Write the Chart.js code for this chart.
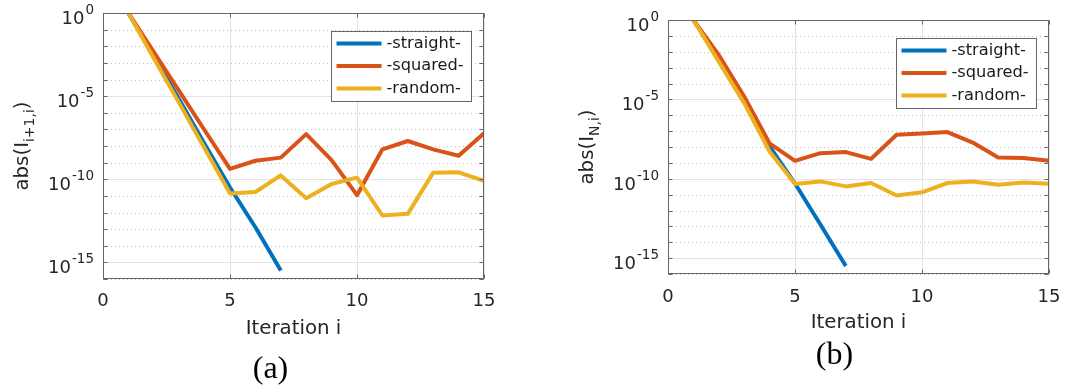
<!DOCTYPE html>
<html>
<head>
<meta charset="utf-8">
<script src="https://cdn.jsdelivr.net/npm/chart.js@4.4.1/dist/chart.umd.min.js"></script>
<style>
    html, body { margin: 0; padding: 0; background: #fff; }
    #wrap { position: relative; width: 1071px; height: 392px; overflow: hidden; }
    .panel { position: absolute; top: 0; }
</style>
</head>
<body>
<div id="wrap">
    <div class="panel" style="left:0"><canvas id="chartA" width="535" height="392"></canvas></div>
    <div class="panel" style="left:535px"><canvas id="chartB" width="536" height="392"></canvas></div>
</div>
<script>
// dados
const iterations = [1, 2, 3, 4, 5, 6, 7, 8, 9, 10, 11, 12, 13, 14, 15];
const seriesNames = ['-straight-', '-squared-', '-random-'];
const seriesColors = ['#0072BD', '#D95319', '#EDB120'];

// (a) abs(I_{i+1,i})
const straightA = [1, 2.5e-3, 6.3e-6, 1.3e-8, 3.2e-11, 1.3e-13, 3.2e-16];
const squaredA = [1, 4.5e-3, 2.0e-5, 8.9e-8, 4.2e-10, 1.3e-9, 2.0e-9, 5.2e-8, 1.4e-9, 1.1e-11, 6.3e-9, 2.0e-8, 6.3e-9, 2.6e-9, 5.8e-8];
const randomA = [1, 1.9e-3, 3.8e-6, 7.4e-9, 1.4e-11, 1.7e-11, 1.7e-10, 7.2e-12, 5.2e-11, 1.26e-10, 6.6e-13, 8.3e-13, 2.5e-10, 2.6e-10, 7.9e-11];

// (b) abs(I_{N,i})
const straightB = [1, 3.5e-3, 1.0e-5, 1.1e-8, 5.0e-11, 1.3e-13, 3.2e-16];
const squaredB = [1, 6.3e-3, 1.5e-5, 1.7e-8, 1.35e-9, 4.1e-9, 4.8e-9, 1.8e-9, 5.9e-8, 7.1e-8, 8.7e-8, 1.9e-8, 2.2e-9, 2.0e-9, 1.35e-9];
const randomB = [1, 2.4e-3, 5.8e-6, 5.2e-9, 4.6e-11, 6.8e-11, 3.3e-11, 5.4e-11, 8.9e-12, 1.4e-11, 5.4e-11, 6.8e-11, 4.2e-11, 5.9e-11, 4.9e-11];

const xTicks = [0, 5, 10, 15];
const yTickExp = [0, -5, -10, -15];
const decadeExp = [0, -1, -2, -3, -4, -5, -6, -7, -8, -9, -10, -11, -12, -13, -14, -15, -16];

const textColor = '#262626';
const axisColor = '#666666';
const FONT = '"DejaVu Sans", sans-serif';
const LINE_W = 4;

function toPoints(values) {
    return values.map((v, i) => ({ x: iterations[i], y: v }));
}

// Plugin que desenha eixos no estilo MATLAB (grade, caixa, rótulos com expoente, legenda)
const matlabAxes = {
    id: 'matlabAxes',
    beforeDatasetsDraw(chart, args, opts) {
        const { ctx, chartArea: a, scales: { x, y } } = chart;
        ctx.save();
        ctx.lineWidth = 1;
        // grade menor pontilhada
        ctx.strokeStyle = '#c0c0c0';
        ctx.setLineDash([1, 3]);
        decadeExp.forEach(e => {
            if (e % 5 === 0) return;
            const py = Math.round(y.getPixelForValue(Math.pow(10, e))) + 0.5;
            ctx.beginPath();
            ctx.moveTo(a.left, py);
            ctx.lineTo(a.right, py);
            ctx.stroke();
        });
        // grade maior
        ctx.setLineDash([]);
        ctx.strokeStyle = '#e3e3e3';
        yTickExp.forEach(e => {
            const py = Math.round(y.getPixelForValue(Math.pow(10, e))) + 0.5;
            ctx.beginPath();
            ctx.moveTo(a.left, py);
            ctx.lineTo(a.right, py);
            ctx.stroke();
        });
        xTicks.forEach(t => {
            const px = Math.round(x.getPixelForValue(t)) + 0.5;
            ctx.beginPath();
            ctx.moveTo(px, a.top);
            ctx.lineTo(px, a.bottom);
            ctx.stroke();
        });
        ctx.restore();
    },
    afterDatasetsDraw(chart, args, opts) {
        const { ctx, chartArea: a, scales: { x, y } } = chart;
        ctx.save();

        // caixa e marcas
        ctx.strokeStyle = axisColor;
        ctx.lineWidth = 1;
        const L = Math.round(a.left) + 0.5, R = Math.round(a.right) - 0.5;
        const T = Math.round(a.top) + 0.5, B = Math.round(a.bottom) - 0.5;
        ctx.strokeRect(L, T, R - L, B - T);
        ctx.beginPath();
        decadeExp.forEach(e => {
            const py = Math.round(y.getPixelForValue(Math.pow(10, e))) + 0.5;
            ctx.moveTo(L, py); ctx.lineTo(L + 4, py);
            ctx.moveTo(R, py); ctx.lineTo(R - 4, py);
        });
        xTicks.forEach(t => {
            const px = Math.round(x.getPixelForValue(t)) + 0.5;
            ctx.moveTo(px, B); ctx.lineTo(px, B - 4);
            ctx.moveTo(px, T); ctx.lineTo(px, T + 4);
        });
        ctx.stroke();

        ctx.fillStyle = textColor;

        // rótulos do eixo x
        ctx.font = '18px ' + FONT;
        ctx.textAlign = 'center';
        ctx.textBaseline = 'alphabetic';
        xTicks.forEach(t => {
            ctx.fillText(String(t), x.getPixelForValue(t), a.bottom + opts.xTickOff);
        });

        // rótulos do eixo y: 10^e
        yTickExp.forEach(e => {
            const py = y.getPixelForValue(Math.pow(10, e));
            const sup = e === 0 ? '0' : '-' + Math.abs(e);
            ctx.font = '13.5px ' + FONT;
            const ws = ctx.measureText(sup).width;
            const right = a.left - 9;
            ctx.textAlign = 'left';
            ctx.fillText(sup, right - ws, py + 1);
            ctx.font = '18px ' + FONT;
            const wb = ctx.measureText('10').width;
            ctx.fillText('10', right - ws - wb - 1, py + 11);
        });

        // título do eixo x
        ctx.font = '19.8px ' + FONT;
        ctx.textAlign = 'center';
        ctx.fillText('Iteration i', (a.left + a.right) / 2, a.bottom + opts.xTitleOff);

        // título do eixo y com subscrito
        ctx.save();
        ctx.translate(a.left - 75, (a.top + a.bottom) / 2);
        ctx.rotate(-Math.PI / 2);
        ctx.textAlign = 'left';
        ctx.font = '19.8px ' + FONT;
        const w1 = ctx.measureText(opts.yTitle).width;
        const w3 = ctx.measureText(')').width;
        ctx.font = '14px ' + FONT;
        const w2 = ctx.measureText(opts.ySub).width;
        let cx = -(w1 + w2 + w3) / 2;
        ctx.font = '19.8px ' + FONT;
        ctx.fillText(opts.yTitle, cx, 0);
        cx += w1;
        ctx.font = '14px ' + FONT;
        ctx.fillText(opts.ySub, cx, 6);
        cx += w2;
        ctx.font = '19.8px ' + FONT;
        ctx.fillText(')', cx, 0);
        ctx.restore();

        // legenda
        const boxW = 140, boxH = 70;
        const bx = Math.round(a.right - 13 - boxW) + 0.5;
        const by = Math.round(a.top + 18) + 0.5;
        ctx.fillStyle = '#fff';
        ctx.fillRect(bx, by, boxW, boxH);
        ctx.strokeStyle = axisColor;
        ctx.lineWidth = 1;
        ctx.strokeRect(bx, by, boxW, boxH);
        ctx.font = '16.2px ' + FONT;
        ctx.textAlign = 'left';
        ctx.textBaseline = 'middle';
        chart.data.datasets.forEach((ds, i) => {
            const ry = by + 12 + i * 22.5;
            ctx.strokeStyle = ds.borderColor;
            ctx.lineWidth = LINE_W;
            ctx.beginPath();
            ctx.moveTo(bx + 5, ry);
            ctx.lineTo(bx + 50, ry);
            ctx.stroke();
            ctx.fillStyle = '#1a1a1a';
            ctx.fillText(ds.label, bx + 55, ry);
        });

        // rótulo do painel
        ctx.fillStyle = '#000';
        ctx.font = '32px "Liberation Serif", serif';
        ctx.textAlign = 'center';
        ctx.textBaseline = 'middle';
        ctx.fillText(opts.panel, (a.left + a.right) / 2 + opts.panelDx, a.bottom + opts.panelOff);

        ctx.restore();
    }
};

function criarGrafico(canvasId, series, area, texto) {
    const canvas = document.getElementById(canvasId);
    const datasets = series.map((vals, i) => ({
        label: seriesNames[i],
        data: toPoints(vals),
        borderColor: seriesColors[i],
        backgroundColor: seriesColors[i],
        borderWidth: LINE_W,
        pointRadius: 0,
        tension: 0,
        borderJoinStyle: 'round',
        order: series.length - i  // amarelo por cima, como no MATLAB
    }));

    return new Chart(canvas.getContext('2d'), {
        type: 'line',
        data: { datasets: datasets },
        options: {
            responsive: false,
            animation: false,
            events: [],
            layout: {
                padding: { left: 0, top: area.top, right: canvas.width - area.right, bottom: 0 }
            },
            scales: {
                x: {
                    type: 'linear',
                    min: 0,
                    max: 15,
                    grid: { display: false },
                    border: { display: false },
                    ticks: { display: false },
                    afterFit: (scale) => { scale.height = canvas.height - area.bottom; }
                },
                y: {
                    type: 'logarithmic',
                    min: 1e-16,
                    max: 1,
                    grid: { display: false },
                    border: { display: false },
                    ticks: { display: false },
                    afterFit: (scale) => { scale.width = area.left; }
                }
            },
            plugins: {
                legend: { display: false },
                tooltip: { enabled: false },
                matlabAxes: texto
            }
        },
        plugins: [matlabAxes]
    });
}

criarGrafico('chartA', [straightA, squaredA, randomA],
    { left: 103, top: 13, right: 484, bottom: 279 },
    { yTitle: 'abs(I', ySub: 'i+1,i', panel: '(a)', xTickOff: 27, xTitleOff: 55, panelOff: 91, panelDx: -23 });

criarGrafico('chartB', [straightB, squaredB, randomB],
    { left: 133, top: 20, right: 514, bottom: 274 },
    { yTitle: 'abs(I', ySub: 'N,i', panel: '(b)', xTickOff: 28, xTitleOff: 54, panelOff: 82, panelDx: -24 });
</script>
</body>
</html>
